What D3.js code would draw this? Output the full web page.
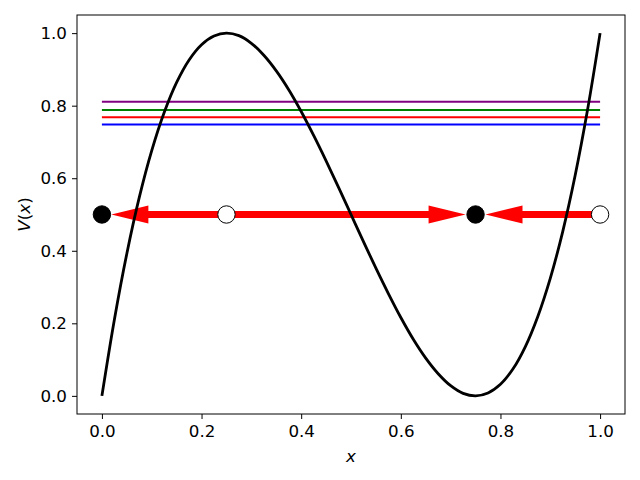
<!DOCTYPE html>
<html>
<head>
<meta charset="utf-8">
<script src="https://cdn.jsdelivr.net/npm/d3@7"></script>
<style>
  body { margin: 0; background: #fff; }
  text { font-family: "DejaVu Sans", sans-serif; }
</style>
</head>
<body>
<svg id="chart" width="640" height="480"></svg>
<script>
// curve V(x)
const curveX = [0, 0.025, 0.05, 0.075, 0.1, 0.125, 0.15, 0.175, 0.2, 0.225, 0.25,
  0.275, 0.3, 0.325, 0.35, 0.375, 0.4, 0.425, 0.45, 0.475, 0.5,
  0.525, 0.55, 0.575, 0.6, 0.625, 0.65, 0.675, 0.7, 0.725, 0.75,
  0.775, 0.8, 0.825, 0.85, 0.875, 0.9, 0.925, 0.95, 0.975, 1];
const curveV = [0, 0.210, 0.392, 0.547, 0.676, 0.781, 0.864, 0.926, 0.968, 0.992, 1,
  0.993, 0.972, 0.939, 0.896, 0.844, 0.784, 0.718, 0.648, 0.575, 0.5,
  0.425, 0.352, 0.282, 0.216, 0.156, 0.104, 0.061, 0.028, 0.007, 0,
  0.008, 0.032, 0.074, 0.136, 0.219, 0.324, 0.453, 0.608, 0.790, 1];

// horizontal level lines
const levelValues = [0.811, 0.788, 0.768, 0.748];
const levelColors = ['purple', 'green', 'red', 'blue'];
const levelStart = 0;
const levelEnd = 1;

// fixed points and flow arrows at y = 0.5
const flowY = 0.5;
const fixedX = [0, 0.25, 0.75, 1];
const fixedStable = [true, false, true, false];
const arrowFrom = [0.25, 0.25, 1];
const arrowTo = [0.019, 0.73, 0.77];

const xTicks = [0, 0.2, 0.4, 0.6, 0.8, 1];
const yTicks = [0, 0.2, 0.4, 0.6, 0.8, 1];

const svg = d3.select('#chart');
const margin = { top: 15, right: 15, bottom: 66, left: 77 };
const width = 640 - margin.left - margin.right;
const height = 480 - margin.top - margin.bottom;
const fontSize = 16.7;

const x = d3.scaleLinear().domain([-0.05, 1.05]).range([0, width]);
const y = d3.scaleLinear().domain([-0.05, 1.05]).range([height, 0]);

const g = svg.append('g').attr('transform', `translate(${margin.left},${margin.top})`);

// level lines
g.selectAll('.level')
  .data(levelValues)
  .join('line')
  .attr('x1', x(levelStart))
  .attr('x2', x(levelEnd))
  .attr('y1', d => y(d))
  .attr('y2', d => y(d))
  .attr('stroke', (d, i) => levelColors[i])
  .attr('stroke-width', 2);

// arrows
const shaftHalf = 3.5, headHalf = 9, headLen = 37;
g.selectAll('.arrow')
  .data(arrowFrom.map((f, i) => ({ from: f, to: arrowTo[i] })))
  .join('path')
  .attr('fill', 'red')
  .attr('d', d => {
    const x0 = x(d.from), x1 = x(d.to), cy = y(flowY);
    const dir = x1 > x0 ? 1 : -1;
    const xb = x1 - dir * headLen;
    return `M${x0},${cy - shaftHalf}L${xb},${cy - shaftHalf}L${xb},${cy - headHalf}` +
      `L${x1},${cy}L${xb},${cy + headHalf}L${xb},${cy + shaftHalf}L${x0},${cy + shaftHalf}Z`;
  });

// curve
g.append('path')
  .datum(curveX.map((v, i) => [v, curveV[i]]))
  .attr('fill', 'none')
  .attr('stroke', 'black')
  .attr('stroke-width', 2.8)
  .attr('d', d3.line().x(d => x(d[0])).y(d => y(d[1])).curve(d3.curveCatmullRom));

// fixed points
g.selectAll('.fixed')
  .data(fixedX)
  .join('circle')
  .attr('cx', d => x(d))
  .attr('cy', y(flowY))
  .attr('r', 8.7)
  .attr('fill', (d, i) => fixedStable[i] ? 'black' : 'white')
  .attr('stroke', 'black')
  .attr('stroke-width', 1);

// axes
const xAxis = g.append('g')
  .attr('transform', `translate(0,${height})`)
  .call(d3.axisBottom(x).tickValues(xTicks).tickFormat(d3.format('.1f')).tickSizeOuter(0).tickSize(5).tickPadding(6));
const yAxis = g.append('g')
  .call(d3.axisLeft(y).tickValues(yTicks).tickFormat(d3.format('.1f')).tickSizeOuter(0).tickSize(5).tickPadding(5));
[xAxis, yAxis].forEach(a => {
  a.select('.domain').remove();
  a.selectAll('text').attr('font-size', fontSize).attr('font-family', 'DejaVu Sans').attr('fill', 'black');
  a.selectAll('line').attr('stroke', 'black').attr('stroke-width', 1);
});

// frame
g.append('rect')
  .attr('width', width)
  .attr('height', height)
  .attr('fill', 'none')
  .attr('stroke', 'black')
  .attr('stroke-width', 1);

// labels
g.append('text')
  .attr('x', width / 2)
  .attr('y', height + 47.5)
  .attr('text-anchor', 'middle')
  .attr('font-size', fontSize)
  .attr('font-style', 'italic')
  .text('x');

g.append('text')
  .attr('transform', `translate(-47,${height / 2}) rotate(-90)`)
  .attr('text-anchor', 'middle')
  .attr('font-size', fontSize)
  .html('<tspan font-style="italic">V</tspan>(<tspan font-style="italic">x</tspan>)');
</script>
</body>
</html>
